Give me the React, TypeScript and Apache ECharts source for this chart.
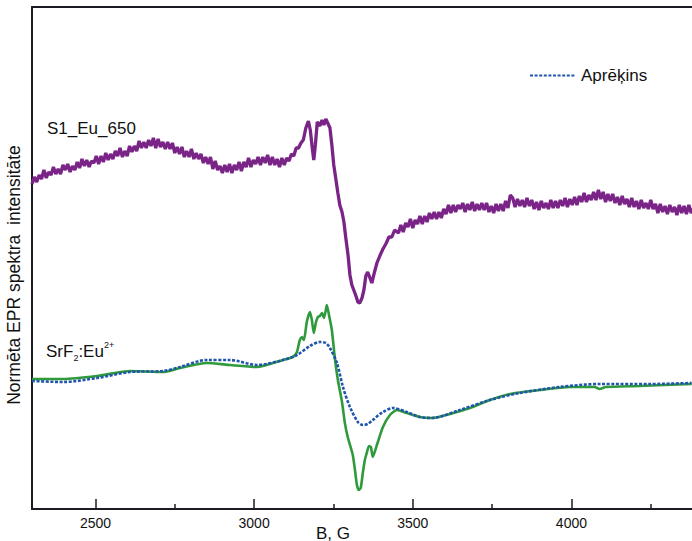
import React, { useEffect, useRef } from "react";
import * as echarts from "echarts";

// Magnetic field B (G) and normalised EPR intensity (arbitrary units)
const xMajorTicks = [2500, 3000, 3500, 4000];
const xMinorTicks = [2750, 3250, 3750, 4250];

const s1Eu650: [number, number][] = [
  [2300, 325], [2307.5, 332], [2315, 327], [2322.5, 334], [2330, 330], [2337.5, 339], [2345, 331], [2352.5, 337],
  [2360, 334], [2367.5, 342], [2375, 335], [2382.5, 340], [2390, 335], [2397.5, 344], [2405, 339], [2412.5, 345],
  [2420, 337], [2427.5, 343], [2435, 339], [2442.5, 347], [2450, 341], [2457.5, 350], [2465, 343], [2472.5, 349],
  [2480, 342], [2487.5, 348], [2495, 346], [2502.5, 353], [2510, 345], [2517.5, 353], [2525, 347], [2532.5, 356],
  [2540, 349], [2547.5, 355], [2555, 350], [2562.5, 358], [2570, 353], [2577.5, 361], [2585, 352], [2592.5, 358],
  [2600, 353], [2607.5, 363], [2615, 357], [2622.5, 363], [2630, 358], [2637.5, 368], [2645, 361], [2652.5, 367],
  [2660, 361], [2667.5, 369], [2675, 363], [2682.5, 371], [2690, 361], [2697.5, 370], [2705, 362], [2712.5, 367],
  [2720, 360], [2727.5, 367], [2735, 360], [2742.5, 366], [2750, 356], [2757.5, 362], [2765, 355], [2772.5, 362],
  [2780, 352], [2787.5, 358], [2795, 352], [2802.5, 360], [2810, 350], [2817.5, 356], [2825, 350], [2832.5, 355],
  [2840, 346], [2847.5, 352], [2855, 345], [2862.5, 352], [2870, 340], [2877.5, 348], [2885, 339], [2892.5, 343],
  [2900, 336], [2907.5, 344], [2915, 337], [2922.5, 345], [2930, 336], [2937.5, 344], [2945, 339], [2952.5, 347],
  [2960, 338], [2967.5, 347], [2975, 342], [2982.5, 351], [2990, 342], [2997.5, 349], [3005, 345], [3012.5, 352],
  [3020, 344], [3027.5, 352], [3035, 346], [3042.5, 354], [3050, 344], [3057.5, 352], [3065, 344], [3072.5, 350],
  [3080, 342], [3087.5, 351], [3095, 344], [3102.5, 351], [3110, 348], [3117.5, 355], [3125, 353], [3132.5, 361],
  [3140, 361], [3147.5, 366], [3155, 369], [3163, 381], [3171, 388], [3177, 379], [3184, 359], [3188, 349],
  [3193, 364], [3199, 387], [3207, 383], [3214, 389], [3220, 384], [3226, 390], [3232, 386], [3239, 381],
  [3245, 364], [3251, 344], [3258, 329], [3264, 316], [3270, 304], [3277, 297], [3283, 287], [3289, 271],
  [3296, 254], [3302, 234], [3308, 224], [3314, 219], [3321, 213], [3327, 207], [3333, 206], [3340, 211],
  [3346, 219], [3352, 233], [3358, 237], [3365, 231], [3371, 226], [3377, 234], [3387, 246], [3396, 253],
  [3406, 260], [3415, 265], [3425, 272], [3434, 272], [3443, 279], [3455, 276], [3462.5, 284], [3470, 277],
  [3477.5, 286], [3485, 282], [3492.5, 290], [3500, 281], [3507.5, 289], [3515, 285], [3522.5, 293], [3530, 285],
  [3537.5, 293], [3545, 287], [3552.5, 296], [3560, 290], [3567.5, 297], [3575, 290], [3582.5, 297], [3590, 291],
  [3597.5, 300], [3605, 295], [3612.5, 304], [3620, 296], [3627.5, 304], [3635, 297], [3642.5, 304], [3650, 300],
  [3657.5, 306], [3665, 297], [3672.5, 305], [3680, 299], [3687.5, 307], [3695, 298], [3702.5, 305], [3710, 299],
  [3717.5, 306], [3725, 299], [3732.5, 306], [3740, 297], [3747.5, 303], [3755, 296], [3762.5, 305], [3770, 298],
  [3777.5, 305], [3785, 298], [3792.5, 308], [3800, 301], [3807.5, 314], [3815, 311], [3822.5, 302], [3830, 310],
  [3837.5, 303], [3845, 309], [3852.5, 302], [3860, 311], [3867.5, 303], [3875, 309], [3882.5, 300], [3890, 307],
  [3897.5, 299], [3905, 308], [3912.5, 301], [3920, 306], [3927.5, 300], [3935, 309], [3942.5, 301], [3950, 308],
  [3957.5, 301], [3965, 309], [3972.5, 303], [3980, 311], [3987.5, 302], [3995, 310], [4002.5, 304], [4010, 312],
  [4017.5, 304], [4025, 313], [4032.5, 307], [4040, 316], [4047.5, 307], [4055, 314], [4062.5, 309], [4070, 317],
  [4077.5, 309], [4085, 319], [4092.5, 310], [4100, 317], [4107.5, 307], [4115, 315], [4122.5, 308], [4130, 315],
  [4137.5, 306], [4145, 312], [4152.5, 304], [4160, 313], [4167.5, 305], [4175, 310], [4182.5, 302], [4190, 311],
  [4197.5, 302], [4205, 308], [4212.5, 300], [4220, 309], [4227.5, 301], [4235, 306], [4242.5, 300], [4250, 309],
  [4257.5, 300], [4265, 305], [4272.5, 296], [4280, 305], [4287.5, 297], [4295, 303], [4302.5, 295], [4310, 304],
  [4317.5, 297], [4325, 302], [4332.5, 294], [4340, 304], [4347.5, 296], [4355, 303], [4362.5, 295], [4370, 304],
  [4377.5, 296], [4385, 301],
];

const srf2Eu: [number, number][] = [
  [2300, 130], [2398, 130], [2505, 133], [2609, 138], [2713, 137], [2766, 141], [2851, 146], [2924, 144],
  [3009, 142], [3091, 149], [3122, 152], [3135, 157], [3144, 169], [3151, 172], [3157, 169], [3166, 187],
  [3176, 197], [3182, 189], [3188, 176], [3195, 187], [3201, 192], [3207, 193], [3214, 196], [3220, 191],
  [3226, 199], [3229, 204], [3236, 194], [3245, 179], [3254, 152], [3264, 129], [3277, 107], [3286, 86],
  [3295, 72], [3305, 61], [3311, 54], [3317, 41], [3324, 24], [3330, 19], [3336, 21], [3343, 37],
  [3349, 49], [3355, 56], [3362, 63], [3368, 62], [3374, 52], [3380, 57], [3390, 67], [3406, 82],
  [3428, 94], [3450, 99], [3481, 96], [3522, 92], [3560, 91], [3617, 95], [3680, 101], [3743, 109],
  [3806, 115], [3900, 119], [3995, 122], [4073, 122], [4089, 120], [4108, 122], [4215, 123], [4379, 125],
];

const calculated: [number, number][] = [
  [2300, 128], [2398, 127], [2505, 131], [2609, 137], [2713, 138], [2766, 142], [2851, 149], [2924, 149],
  [3009, 144], [3091, 149], [3135, 154], [3176, 163], [3207, 167], [3226, 166], [3239, 161], [3261, 146],
  [3280, 122], [3302, 102], [3327, 87], [3343, 84], [3358, 85], [3374, 89], [3406, 97], [3437, 101],
  [3481, 97], [3522, 92], [3560, 91], [3648, 99], [3743, 109], [3837, 116], [3963, 122], [4089, 125],
  [4247, 125], [4379, 126],
];

const FONT = "'Liberation Sans', Arial, sans-serif";
const AXIS_COLOR = "#1b1b24";

export default function App() {
  const ref = useRef<HTMLDivElement>(null);

  useEffect(() => {
    if (!ref.current) return;
    const chart = echarts.init(ref.current, undefined, { renderer: "svg" });
    const xMin = 2300;
    const xMax = 4380;
    chart.setOption({
      animation: false,
      backgroundColor: "#ffffff",
      textStyle: { fontFamily: FONT },
      grid: { left: 32, right: 0, top: 7, bottom: 32, containLabel: false },
      legend: {
        data: ["Aprēķins"],
        left: 524,
        top: 62,
        itemWidth: 46,
        itemHeight: 14,
        itemGap: 10,
        itemStyle: { opacity: 0 },
        textStyle: { fontFamily: FONT, fontSize: 17, color: "#111" },
      },
      xAxis: [
        {
          type: "value",
          min: xMin,
          max: xMax,
          position: "bottom",
          axisLine: { show: true, lineStyle: { color: AXIS_COLOR, width: 2 } },
          axisTick: {
            show: true,
            inside: true,
            length: 10,
            customValues: xMajorTicks,
            lineStyle: { color: AXIS_COLOR, width: 1.5 },
          },
          axisLabel: {
            show: true,
            margin: 7,
            fontSize: 14,
            color: "#111",
            fontFamily: FONT,
            customValues: xMajorTicks,
            formatter: (v: number) => String(v),
          },
          splitLine: { show: false },
        },
        {
          type: "value",
          min: xMin,
          max: xMax,
          position: "top",
          axisLine: { show: true, lineStyle: { color: AXIS_COLOR, width: 2 } },
          axisTick: { show: false },
          axisLabel: { show: false },
          splitLine: { show: false },
        },
      ],
      yAxis: {
        type: "value",
        min: 0,
        max: 502,
        axisLine: { show: true, lineStyle: { color: AXIS_COLOR, width: 2 } },
        axisTick: { show: false },
        axisLabel: { show: false },
        splitLine: { show: false },
      },
      series: [
        {
          name: "S1_Eu_650",
          type: "line",
          data: s1Eu650,
          symbol: "none",
          lineStyle: { color: "#7a2487", width: 3.3 },
          itemStyle: { color: "#7a2487" },
        },
        {
          name: "SrF2:Eu2+",
          type: "line",
          data: srf2Eu,
          symbol: "none",
          smooth: 0.2,
          lineStyle: { color: "#2f9a3b", width: 2.6 },
          itemStyle: { color: "#2f9a3b" },
        },
        {
          name: "Aprēķins",
          type: "line",
          data: calculated,
          symbol: "none",
          smooth: 0.3,
          lineStyle: { color: "#2055ae", width: 2.6, type: [3, 1.6] },
          itemStyle: { color: "#2055ae" },
        },
        {
          name: "minor-ticks",
          type: "line",
          data: [],
          symbol: "none",
          silent: true,
          markLine: {
            silent: true,
            symbol: "none",
            label: { show: false },
            lineStyle: { color: AXIS_COLOR, width: 1.5, type: "solid" },
            data: xMinorTicks.map((v) => [{ coord: [v, 0] }, { coord: [v, 5] }]),
          },
        },
      ],
      graphic: [
        {
          type: "text",
          left: 47,
          top: 120,
          style: { text: "S1_Eu_650", font: `17px ${FONT}`, fill: "#111" },
        },
        {
          type: "text",
          left: 46,
          top: 340,
          style: {
            text: "{n|SrF}{sub|2}{n|:Eu}{sup|2+}",
            fill: "#111",
            rich: {
              n: { fontSize: 17, fontFamily: FONT, lineHeight: 22, verticalAlign: "middle" },
              sub: { fontSize: 9, fontFamily: FONT, lineHeight: 10, verticalAlign: "bottom" },
              sup: { fontSize: 9, fontFamily: FONT, lineHeight: 10, verticalAlign: "top" },
            },
          },
        },
        {
          type: "text",
          x: 14,
          y: 275,
          rotation: Math.PI / 2,
          style: {
            text: "Normēta EPR spektra  intensitāte",
            font: `17.5px ${FONT}`,
            fill: "#111",
            align: "center",
            verticalAlign: "middle",
          },
        },
        {
          type: "text",
          x: 333,
          y: 533,
          style: {
            text: "B, G",
            font: `17px ${FONT}`,
            fill: "#111",
            align: "center",
            verticalAlign: "middle",
          },
        },
      ],
    });
    return () => chart.dispose();
  }, []);

  return <div ref={ref} style={{ width: 692, height: 541, position: "absolute", left: 0, top: 0 }} />;
}
